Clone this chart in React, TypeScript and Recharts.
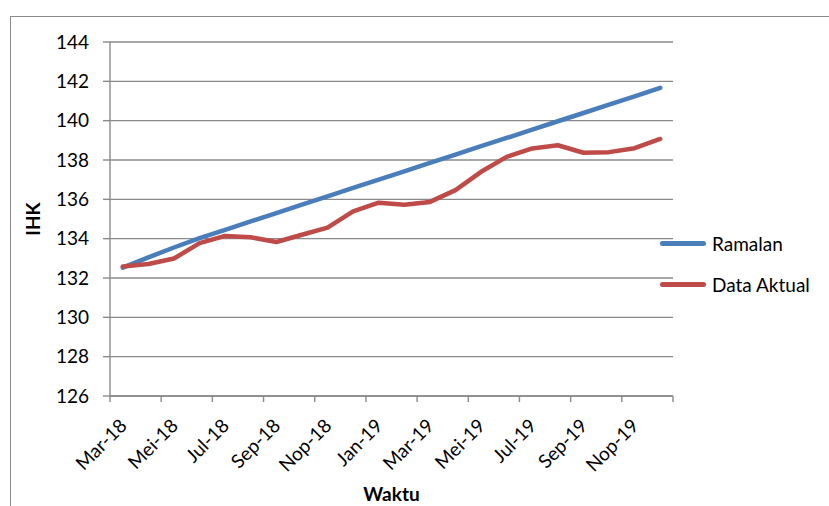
import React from 'react';
import { LineChart, Line, XAxis, YAxis, CartesianGrid, Legend } from 'recharts';

const months = [
  'Mar-18', 'Apr-18', 'Mei-18', 'Jun-18', 'Jul-18', 'Agu-18', 'Sep-18', 'Okt-18', 'Nop-18', 'Des-18', 'Jan-19',
  'Feb-19', 'Mar-19', 'Apr-19', 'Mei-19', 'Jun-19', 'Jul-19', 'Agu-19', 'Sep-19', 'Okt-19', 'Nop-19', 'Des-19',
];

const ramalan = [
  132.53, 133.05, 133.55, 134.03, 134.45, 134.88, 135.3, 135.73, 136.15, 136.58, 137.0,
  137.42, 137.85, 138.27, 138.7, 139.12, 139.55, 139.97, 140.39, 140.82, 141.24, 141.67,
];

const dataAktual = [
  132.58, 132.71, 132.99, 133.77, 134.14, 134.07, 133.83, 134.2, 134.56, 135.39, 135.83,
  135.72, 135.87, 136.47, 137.4, 138.16, 138.59, 138.75, 138.37, 138.4, 138.6, 139.07,
];

const seriesNames = ['Ramalan', 'Data Aktual'];

// tick marks sit on category boundaries, one every two months
const xTicks = [0, 2, 4, 6, 8, 10, 12, 14, 16, 18, 20, 22];
const yTicks = [126, 128, 130, 132, 134, 136, 138, 140, 142, 144];

const FONT = 'Lato, "Noto Sans", sans-serif';
const GRID = '#8a8a8a';

const rows = months.map((m, i) => ({
  pos: i + 0.5,
  month: m,
  ramalan: ramalan[i],
  aktual: dataAktual[i],
}));

const MonthTick = (props: any) => {
  const { x, y, payload } = props;
  const label = months[payload.value];
  if (!label) return null;
  return (
    <text
      transform={`translate(${x + 18},${y + 25}) rotate(-45)`}
      textAnchor="end"
      fontSize={19}
      fontFamily={FONT}
      fill="#000"
    >
      {label}
    </text>
  );
};

const LegendBox = (props: any) => {
  const items = [...(props.payload || [])].sort(
    (a: any, b: any) => seriesNames.indexOf(a.value) - seriesNames.indexOf(b.value)
  );
  return (
    <div>
      {items.map((p: any) => (
        <div key={p.value} style={{ display: 'flex', alignItems: 'center', height: 41 }}>
          <span style={{ width: 46, height: 5, background: p.color, borderRadius: 3, display: 'inline-block' }} />
          <span style={{ marginLeft: 6, fontSize: 19, fontFamily: FONT, color: '#000', whiteSpace: 'nowrap' }}>
            {p.value}
          </span>
        </div>
      ))}
    </div>
  );
};

export default function App() {
  return (
    <div style={{ position: 'absolute', left: 0, top: 0, width: 829, height: 506, overflow: 'hidden', background: '#fff' }}>
      <div
        style={{
          position: 'absolute',
          left: 10,
          top: 16,
          width: 900,
          height: 600,
          border: `1px solid ${GRID}`,
        }}
      />
      <LineChart width={829} height={506} data={rows} margin={{ top: 42, right: 156, bottom: 10, left: 10 }}>
        <CartesianGrid vertical={false} stroke={GRID} strokeWidth={1.4} />
        <XAxis
          dataKey="pos"
          type="number"
          domain={[0, 22]}
          ticks={xTicks}
          interval={0}
          height={100}
          tickSize={6}
          tickMargin={0}
          stroke={GRID}
          strokeWidth={1.4}
          tick={<MonthTick />}
          label={{ value: 'Waktu', position: 'insideBottom', offset: -5, fontSize: 19, fontWeight: 700, fontFamily: FONT, fill: '#000' }}
        />
        <YAxis
          domain={[126, 144]}
          ticks={yTicks}
          interval={0}
          width={100}
          tickSize={7}
          tickMargin={14}
          stroke={GRID}
          strokeWidth={1.4}
          tick={{ fontSize: 19, fontFamily: FONT, fill: '#000' }}
          label={{
            value: 'IHK',
            angle: -90,
            position: 'insideLeft',
            offset: 23,
            style: { textAnchor: 'middle', fontSize: 19, fontWeight: 700, fontFamily: FONT, fill: '#000' },
          }}
        />
        <Legend
          layout="vertical"
          align="center"
          verticalAlign="middle"
          itemSorter={null}
          content={<LegendBox />}
          wrapperStyle={{ left: 660, top: 223, width: 170 }}
        />
        <Line
          type="linear"
          dataKey="ramalan"
          name="Ramalan"
          stroke="#4A7EBB"
          strokeWidth={4.5}
          strokeLinejoin="round"
          strokeLinecap="round"
          dot={false}
          isAnimationActive={false}
        />
        <Line
          type="linear"
          dataKey="aktual"
          name="Data Aktual"
          stroke="#BE4B48"
          strokeWidth={4.5}
          strokeLinejoin="round"
          strokeLinecap="round"
          dot={false}
          isAnimationActive={false}
        />
      </LineChart>
    </div>
  );
}
